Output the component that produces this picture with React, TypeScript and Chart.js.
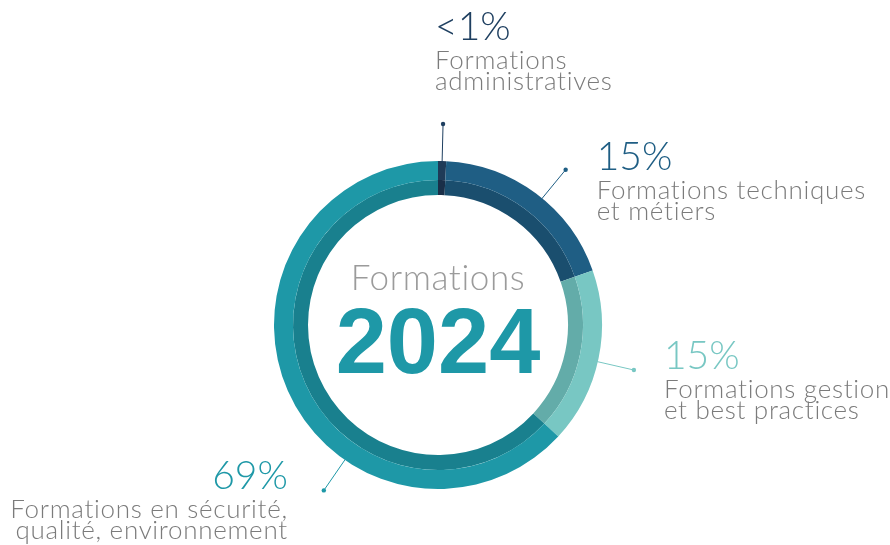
import React, { useEffect, useRef } from "react";
import { Chart, registerables } from "chart.js";

Chart.register(...registerables);

const categories = [
  "Formations administratives",
  "Formations techniques et métiers",
  "Formations gestion et best practices",
  "Formations en sécurité, qualité, environnement",
];
// share of the ring
const values = [0.8, 18.8, 17.3, 63.1];
const pctLabels = ["<1%", "15%", "15%", "69%"];
const labelLines = [
  ["Formations", "administratives"],
  ["Formations techniques", "et métiers"],
  ["Formations gestion", "et best practices"],
  ["Formations en sécurité,", "qualité, environnement"],
];
const outerColors = ["#1f3b58", "#1f5e84", "#78c7c3", "#1e98a7"];
const innerColors = ["#1a2f48", "#1a4e6e", "#63aca9", "#19808e"];
const pctColors = ["#1e3f60", "#1f5e84", "#78c7c3", "#1e98a7"];
const centerTitle = "Formations";
const centerYear = "2024";

// label layout (annotation placement, not data)
const anchorFrac = [0.5, 0.54, 0.52, 0.36];
const leaderRadius = 201;
const textOffsetX = [-8, 31, 30, -36];
const textOffsetY = [-84, 0, -1, -1];
const textAlign: CanvasTextAlign[] = ["left", "left", "left", "right"];

const FONT = "Lato, 'Open Sans', sans-serif";

const labelPlugin = {
  id: "ringLabels",
  afterDraw(chart: any) {
    const ctx: CanvasRenderingContext2D = chart.ctx;
    const meta = chart.getDatasetMeta(0);
    let cx = 0,
      cy = 0;
    meta.data.forEach((arc: any, i: number) => {
      const p = arc.getProps(["x", "y", "startAngle", "endAngle", "outerRadius"], true);
      cx = p.x;
      cy = p.y;
      const a = p.startAngle + (p.endAngle - p.startAngle) * anchorFrac[i];
      const x0 = p.x + Math.cos(a) * (p.outerRadius - 1);
      const y0 = p.y + Math.sin(a) * (p.outerRadius - 1);
      const x1 = p.x + Math.cos(a) * leaderRadius;
      const y1 = p.y + Math.sin(a) * leaderRadius;
      ctx.save();
      ctx.strokeStyle = pctColors[i];
      ctx.lineWidth = 1;
      ctx.beginPath();
      ctx.moveTo(x0, y0);
      ctx.lineTo(x1, y1);
      ctx.stroke();
      ctx.fillStyle = pctColors[i];
      ctx.beginPath();
      ctx.arc(x1, y1, 2.2, 0, Math.PI * 2);
      ctx.fill();

      const tx = x1 + textOffsetX[i];
      const ty = y1 + textOffsetY[i];
      ctx.textAlign = textAlign[i];
      ctx.textBaseline = "alphabetic";
      ctx.font = `300 39px ${FONT}`;
      ctx.fillStyle = pctColors[i];
      ctx.fillText(pctLabels[i], tx, ty);
      ctx.font = `300 26px ${FONT}`;
      ctx.fillStyle = "#7b7b7b";
      (ctx as any).letterSpacing = "0.7px";
      labelLines[i].forEach((line, k) => {
        ctx.fillText(line, tx, ty + 29 + k * 21);
      });
      ctx.restore();
    });

    ctx.save();
    ctx.textAlign = "center";
    ctx.textBaseline = "alphabetic";
    ctx.fillStyle = "#9b9b9b";
    ctx.font = `300 35px ${FONT}`;
    (ctx as any).letterSpacing = "0.6px";
    ctx.fillText(centerTitle, cx, cy - 35);
    (ctx as any).letterSpacing = "0px";
    ctx.fillStyle = "#1e98a7";
    ctx.font = `bold 92px 'Liberation Sans', Arial, sans-serif`;
    ctx.fillText(centerYear, cx, cy + 48);
    ctx.restore();
  },
};

export default function App() {
  const ref = useRef<HTMLCanvasElement | null>(null);
  useEffect(() => {
    if (!ref.current) return;
    const chart = new Chart(ref.current, {
      type: "doughnut",
      data: {
        labels: categories,
        datasets: [
          { data: values, backgroundColor: outerColors, borderWidth: 0, weight: 19 } as any,
          { data: values, backgroundColor: innerColors, borderWidth: 0, weight: 15 } as any,
        ],
      },
      options: {
        animation: false,
        responsive: false,
        maintainAspectRatio: false,
        cutout: 130,
        rotation: 0,
        layout: { padding: { left: 274, right: 288, top: 161, bottom: 56 } },
        plugins: { legend: { display: false }, tooltip: { enabled: false } },
        events: [],
      },
      plugins: [labelPlugin],
    });
    return () => chart.destroy();
  }, []);
  return (
    <div style={{ position: "fixed", left: 0, top: 0, width: 890, height: 545, background: "#fff" }}>
      <canvas ref={ref} width={890} height={545} style={{ width: 890, height: 545, display: "block" }} />
    </div>
  );
}
